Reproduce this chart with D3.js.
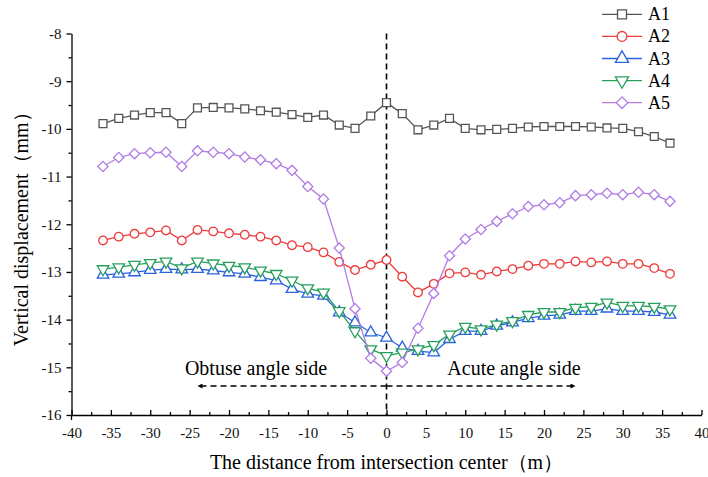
<!DOCTYPE html>
<head>
<meta charset="utf-8">
<style>
  body { margin: 0; background: #fff; }
  svg { font-family: 'Liberation Serif', 'Times New Roman', serif; }
  .axis path, .axis line { stroke: #000; stroke-width: 1.3px; }
  .axis text { font-family: 'Liberation Serif', 'Times New Roman', serif; font-size: 15px; fill: #111; }
  .series path.line { fill: none; stroke-width: 1.3px; }
  .mark { fill: #fff; stroke-width: 1.3px; }
</style>
</head>
<body>
<svg id="chart" width="708" height="477"></svg>
<script src="https://cdn.jsdelivr.net/npm/d3@7"></script>
<script>
  // distances along the section (m)
  const xs = d3.range(-36, 37, 2);
  const names = ["A1", "A2", "A3", "A4", "A5"];
  const colors = ["#555555", "#ee3b3b", "#2763dc", "#27a05c", "#b27ce4"];
  const xTicks = d3.range(-40, 41, 5);
  const yTicks = d3.range(-16, -7, 1);

  const a1 = [-9.89, -9.78, -9.71, -9.66, -9.66, -9.89, -9.56, -9.55, -9.56, -9.58,
              -9.62, -9.65, -9.70, -9.76, -9.71, -9.92, -9.99, -9.73, -9.45,
              -9.68, -10.02, -9.92, -9.78, -9.99, -10.02, -10.01, -9.99, -9.96,
              -9.95, -9.95, -9.95, -9.96, -9.98, -9.99, -10.06, -10.16, -10.30];
  const a2 = [-12.34, -12.26, -12.20, -12.17, -12.13, -12.34, -12.12, -12.15, -12.19, -12.22,
              -12.26, -12.34, -12.44, -12.48, -12.59, -12.79, -12.96, -12.85, -12.75,
              -13.10, -13.43, -13.25, -13.03, -13.01, -13.06, -12.99, -12.94, -12.87,
              -12.83, -12.83, -12.78, -12.80, -12.78, -12.83, -12.83, -12.92, -13.04];
  const a3 = [-13.06, -13.04, -13.01, -12.96, -12.94, -12.95, -12.94, -12.97, -13.01, -13.04,
              -13.11, -13.18, -13.36, -13.46, -13.50, -13.85, -14.06, -14.27, -14.38,
              -14.59, -14.66, -14.69, -14.41, -14.24, -14.24, -14.13, -14.06, -13.97,
              -13.92, -13.90, -13.82, -13.82, -13.77, -13.82, -13.82, -13.84, -13.90];
  const a4 = [-12.94, -12.90, -12.85, -12.81, -12.78, -12.92, -12.78, -12.82, -12.87, -12.90,
              -12.97, -13.04, -13.18, -13.34, -13.43, -13.82, -14.24, -14.62, -14.76,
              -14.69, -14.62, -14.53, -14.31, -14.15, -14.20, -14.10, -14.03, -13.90,
              -13.84, -13.84, -13.75, -13.73, -13.64, -13.71, -13.71, -13.73, -13.78];
  const a5 = [-10.79, -10.60, -10.52, -10.50, -10.49, -10.79, -10.46, -10.49, -10.52, -10.59,
              -10.65, -10.73, -10.87, -11.21, -11.47, -12.50, -13.77, -14.81, -15.08,
              -14.90, -14.18, -13.45, -12.66, -12.31, -12.11, -11.94, -11.78, -11.63,
              -11.59, -11.55, -11.40, -11.38, -11.35, -11.38, -11.33, -11.38, -11.52];
  const series = [a1, a2, a3, a4, a5];

  const svg = d3.select("#chart");
  const x = d3.scaleLinear().domain([-40, 40]).range([71.5, 701.5]);
  const y = d3.scaleLinear().domain([-16, -8]).range([415, 33.5]);
  const plain = function(d) { return String(d); };   // hyphen minus, as in the figure

  // y axis
  svg.append("g").attr("class", "axis")
      .attr("transform", "translate(" + x(-40) + ",0)")
      .call(d3.axisLeft(y).tickValues(yTicks).tickSize(5).tickSizeOuter(0).tickPadding(5).tickFormat(plain))
      .attr("font-family", null).attr("font-size", null);
  svg.append("g").attr("class", "axis")
      .attr("transform", "translate(" + x(-40) + ",0)")
      .call(d3.axisLeft(y).tickValues(d3.range(-15.5, -8, 1)).tickSize(3).tickFormat(""))
      .select(".domain").remove();
  svg.append("line")
      .attr("x1", x(-40)).attr("x2", x(-40))
      .attr("y1", y(-16)).attr("y2", y(-16) + 5)
      .attr("stroke", "#000").attr("stroke-width", 1.3);

  // x axis, ticks pointing inwards
  svg.append("g").attr("class", "axis")
      .attr("transform", "translate(0," + y(-16) + ")")
      .call(d3.axisBottom(x).tickValues(xTicks).tickSize(-5).tickSizeOuter(0).tickPadding(12).tickFormat(plain))
      .attr("font-family", null).attr("font-size", null);
  svg.append("g").attr("class", "axis")
      .attr("transform", "translate(0," + y(-16) + ")")
      .call(d3.axisBottom(x).tickValues(d3.range(-37.5, 40, 5)).tickSize(-3).tickFormat(""))
      .select(".domain").remove();

  // axis titles
  svg.append("text")
      .attr("x", x(0)).attr("y", 469)
      .attr("text-anchor", "middle")
      .style("font-size", "20px")
      .text("The distance from intersection center（m）");
  svg.append("text")
      .attr("transform", "translate(28," + y(-12) + ") rotate(-90)")
      .attr("text-anchor", "middle")
      .style("font-size", "20px")
      .text("Vertical displacement（mm）");

  // centre line and side arrows
  svg.append("defs").append("marker")
      .attr("id", "arrow").attr("viewBox", "0 0 10 10")
      .attr("refX", 10).attr("refY", 5)
      .attr("markerWidth", 7).attr("markerHeight", 5)
      .attr("markerUnits", "userSpaceOnUse")
      .attr("orient", "auto")
    .append("path").attr("d", "M0,0L10,5L0,10Z").attr("fill", "#000");

  svg.append("line")
      .attr("x1", x(0)).attr("x2", x(0))
      .attr("y1", y(-8)).attr("y2", y(-16))
      .attr("stroke", "#000").attr("stroke-width", 1.6)
      .attr("stroke-dasharray", "6,4");

  const arrowY = 386;
  [-24, 24].forEach(function(end) {
    svg.append("line")
        .attr("x1", x(0)).attr("x2", x(end))
        .attr("y1", arrowY).attr("y2", arrowY)
        .attr("stroke", "#000").attr("stroke-width", 1.6)
        .attr("stroke-dasharray", "6,4")
        .attr("marker-end", "url(#arrow)");
  });
  svg.append("text")
      .attr("x", 256).attr("y", 375)
      .attr("text-anchor", "middle")
      .style("font-size", "20px")
      .text("Obtuse angle side");
  svg.append("text")
      .attr("x", 514).attr("y", 375)
      .attr("text-anchor", "middle")
      .style("font-size", "20px")
      .text("Acute angle side");

  // markers
  const shapes = [
    { type: d3.symbolSquare, size: 62, rot: 0 },
    { type: d3.symbolCircle, size: 58, rot: 0 },
    { type: d3.symbolTriangle, size: 58, rot: 0 },
    { type: d3.symbolTriangle, size: 58, rot: 180 },
    { type: d3.symbolSquare, size: 52, rot: 45 }
  ];

  const line = d3.line()
      .x(function(d, i) { return x(xs[i]); })
      .y(function(d) { return y(d); });

  series.forEach(function(values, k) {
    const g = svg.append("g").attr("class", "series");
    g.append("path").datum(values)
        .attr("class", "line")
        .attr("stroke", colors[k])
        .attr("d", line);
    g.selectAll("path.mark").data(values).enter().append("path")
        .attr("class", "mark")
        .attr("stroke", colors[k])
        .attr("d", d3.symbol().type(shapes[k].type).size(shapes[k].size))
        .attr("transform", function(d, i) {
          return "translate(" + x(xs[i]) + "," + y(d) + ") rotate(" + shapes[k].rot + ")";
        });
  });

  // legend
  const legend = svg.append("g");
  names.forEach(function(name, k) {
    const ly = 14.3 + k * 22.1;
    legend.append("line")
        .attr("x1", 602).attr("x2", 642)
        .attr("y1", ly).attr("y2", ly)
        .attr("stroke", colors[k]).attr("stroke-width", 1.3);
    legend.append("path")
        .attr("class", "mark")
        .attr("stroke", colors[k])
        .attr("d", d3.symbol().type(shapes[k].type).size(shapes[k].size * 1.3))
        .attr("transform", "translate(622," + ly + ") rotate(" + shapes[k].rot + ")");
    legend.append("text")
        .attr("x", 648).attr("y", ly + 6)
        .style("font-size", "18px")
        .text(name);
  });
</script>
</body>
